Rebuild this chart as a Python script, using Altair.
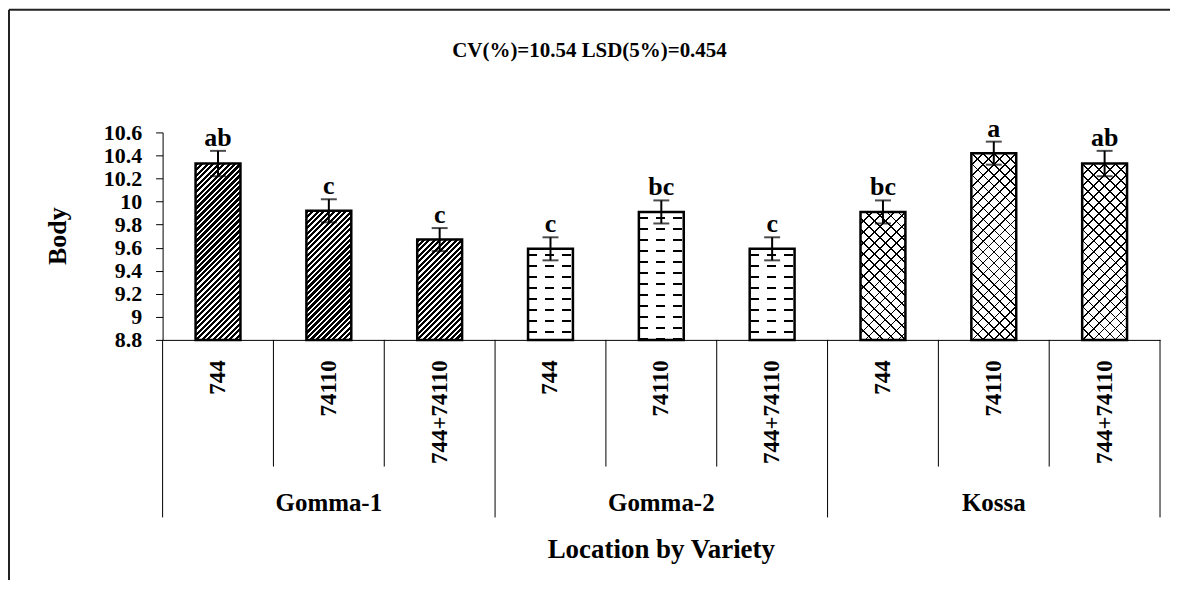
import altair as alt
import pandas as pd

# ---------------- data ----------------
locations = ["Gomma-1", "Gomma-2", "Kossa"]
varieties = ["744", "74110", "744+74110"]
body_means = [10.33, 9.92, 9.67, 9.59, 9.91, 9.59, 9.91, 10.42, 10.33]
std_errors = [0.11, 0.10, 0.10, 0.10, 0.10, 0.10, 0.10, 0.10, 0.11]
letters = ["ab", "c", "c", "c", "bc", "c", "bc", "a", "ab"]
y_ticks = [8.8, 9.0, 9.2, 9.4, 9.6, 9.8, 10.0, 10.2, 10.4, 10.6]
title_text = "CV(%)=10.54 LSD(5%)=0.454"
y_title = "Body"
x_title = "Location by Variety"

rows = []
for li, loc in enumerate(locations):
    for vi, var in enumerate(varieties):
        i = li * len(varieties) + vi
        rows.append(dict(idx=i, key=f"{loc}|{var}", location=loc, variety=var,
                         vidx=vi, lidx=li, mean=body_means[i],
                         lo=body_means[i] - std_errors[i],
                         hi=body_means[i] + std_errors[i], letter=letters[i]))
df = pd.DataFrame(rows)
keys = list(df["key"])

# ---------------- layout / style ----------------
FONT = "Liberation Serif"
W, H = 1000, 208
YMIN, YMAX = 8.8, 10.6
BAR_W = 45
CLEAR = "rgba(0,0,0,0)"

x_axis = alt.Axis(title=None, labelAngle=270, labelAlign="right", labelBaseline="middle",
                  labelPadding=20, ticks=False, tickSize=0, domain=True,
                  domainColor="black", domainWidth=1, labelFont=FONT, labelFontSize=23,
                  labelFontWeight="bold", labelColor="black", labelOverlap=False,
                  labelExpr="split(datum.label, '|')[1]", grid=False)
y_scale = alt.Scale(domain=[YMIN, YMAX], nice=False, zero=False)
y_axis = alt.Axis(title=None, values=y_ticks, format=".3~g", grid=False, tickSize=7,
                  tickColor="black", domainColor="black", labelFont=FONT, labelFontSize=22,
                  labelFontWeight="bold", labelColor="black", labelPadding=14,
                  labelOverlap=False, labelBaseline="middle")


def X(**kw):
    return alt.X("key:N", sort=keys, scale=alt.Scale(paddingInner=0, paddingOuter=0),
                 axis=x_axis, **kw)


def Y(field):
    return alt.Y(f"{field}:Q", scale=y_scale, axis=y_axis)


def bar_height(v):
    return (v - YMIN) / (YMAX - YMIN) * H


def grad(x1, y1, x2, y2, stops):
    return alt.LinearGradient(
        gradient="linear", x1=x1, y1=y1, x2=x2, y2=y2,
        stops=[alt.GradientStop(offset=float(o), color=c) for o, c in stops])


def diag_grad(w, h, period, duty, color, rising=True):
    lam = (w + h) / (w * w + h * h)
    total = w + h
    stops = []
    k = 0
    while k * period < total:
        s = k * period / total
        e = min((k * period + duty * period) / total, 1.0)
        stops += [(s, CLEAR), (s, color), (e, color), (e, CLEAR)]
        k += 1
    if rising:
        return grad(0, 0, lam * w, lam * h, stops)
    return grad(0, 1, lam * w, 1 - lam * h, stops)


def hline_grad(h, period, start, thick, color):
    stops = []
    y = start
    while y < h:
        s = y / h
        e = min((y + thick) / h, 1.0)
        stops += [(s, CLEAR), (s, color), (e, color), (e, CLEAR)]
        y += period
    return grad(0, 0, 0, 1, stops)


def col_mask(w, dashes):
    # white where there is no dash, transparent over dashes
    stops = []
    prev = 0.0
    for a, b in dashes:
        stops += [(prev / w, "white"), (a / w, "white"), (a / w, CLEAR), (b / w, CLEAR), (b / w, "white")]
        prev = b
    stops += [(1.0, "white")]
    return grad(0, 0, 1, 0, stops)


base = alt.Chart(df)
layers = []

# white base for every bar
layers.append(base.mark_bar(size=BAR_W, color="white").encode(
    x=X(), y=Y("mean"), y2=alt.datum(YMIN)))

for i, r in df.iterrows():
    h = bar_height(r["mean"])
    sub = base.transform_filter(f"datum.idx == {r['idx']}")
    if r["lidx"] == 0:
        fills = [diag_grad(BAR_W, h, 5.5, 0.58, "black", rising=True)]
    elif r["lidx"] == 1:
        fills = [hline_grad(h, 11.0, 5.0, 2.4, "black"),
                 col_mask(BAR_W, [(1, 9), (17, 26), (34, 43)])]
    else:
        fills = [diag_grad(BAR_W, h, 11.0, 0.16, "black", rising=True),
                 diag_grad(BAR_W, h, 11.0, 0.16, "black", rising=False)]
    for f in fills:
        layers.append(sub.mark_bar(size=BAR_W, fill=f, strokeWidth=0).encode(
            x=X(), y=Y("mean"), y2=alt.datum(YMIN)))

# bar outlines
layers.append(base.mark_bar(size=BAR_W, fillOpacity=0, stroke="black", strokeWidth=2.5).encode(
    x=X(), y=Y("mean"), y2=alt.datum(YMIN)))

# category separators below the axis
rule_style = dict(color="black", strokeWidth=1)
layers.append(base.transform_filter("datum.vidx > 0").mark_rule(**rule_style).encode(
    x=X(bandPosition=0), y=alt.value(H), y2=alt.value(H + 127)))
layers.append(base.transform_filter("datum.vidx == 0").mark_rule(**rule_style).encode(
    x=X(bandPosition=0), y=alt.value(H), y2=alt.value(H + 178)))
layers.append(base.transform_filter(f"datum.idx == {len(keys) - 1}").mark_rule(**rule_style).encode(
    x=X(bandPosition=1), y=alt.value(H), y2=alt.value(H + 178)))

# error bars
layers.append(base.mark_rule(color="black", strokeWidth=2).encode(
    x=X(), y=Y("lo"), y2="hi:Q"))
layers.append(base.mark_tick(color="black", size=16, thickness=2).encode(x=X(), y=Y("lo")))
layers.append(base.mark_tick(color="black", size=16, thickness=2).encode(x=X(), y=Y("hi")))

# significance letters
layers.append(base.mark_text(font=FONT, fontSize=26, fontWeight="bold", color="black",
                             baseline="alphabetic", dy=-5).encode(
    x=X(), y=Y("hi"), text="letter:N"))

# location group labels
layers.append(base.transform_filter("datum.vidx == 1").mark_text(
    font=FONT, fontSize=25, fontWeight="bold", color="black", baseline="alphabetic").encode(
    x=X(), y=alt.value(H + 172), text="location:N"))

txt = pd.DataFrame({"title": [title_text], "ytitle": [y_title], "xtitle": [x_title]})
tchart = alt.Chart(txt)
layers.append(tchart.mark_text(font=FONT, fontSize=21, fontWeight="bold", color="black",
                               baseline="alphabetic", align="center").encode(
    x=alt.value(428), y=alt.value(-76), text="title:N"))
layers.append(tchart.mark_text(font=FONT, fontSize=26, fontWeight="bold", color="black",
                               baseline="middle", align="center", angle=270).encode(
    x=alt.value(-105), y=alt.value(H / 2), text="ytitle:N"))
layers.append(tchart.mark_text(font=FONT, fontSize=27, fontWeight="bold", color="black",
                               baseline="alphabetic", align="center").encode(
    x=alt.value(W / 2), y=alt.value(H + 219), text="xtitle:N"))

# outer frame
layers.append(tchart.mark_rule(color="#222222", strokeWidth=2).encode(
    x=alt.value(-154), y=alt.value(-123), y2=alt.value(H + 300)))
layers.append(tchart.mark_rule(color="#222222", strokeWidth=2).encode(
    x=alt.value(-154), x2=alt.value(W + 60), y=alt.value(-123)))

chart = alt.layer(*layers).properties(
    width=W, height=H,
    autosize=alt.AutoSizeParams(type="none"),
    padding={"left": 155, "top": 124, "right": 10, "bottom": 240},
).configure_view(stroke=None)

chart.save("out.html", embed_options={"renderer": "svg", "actions": False})
